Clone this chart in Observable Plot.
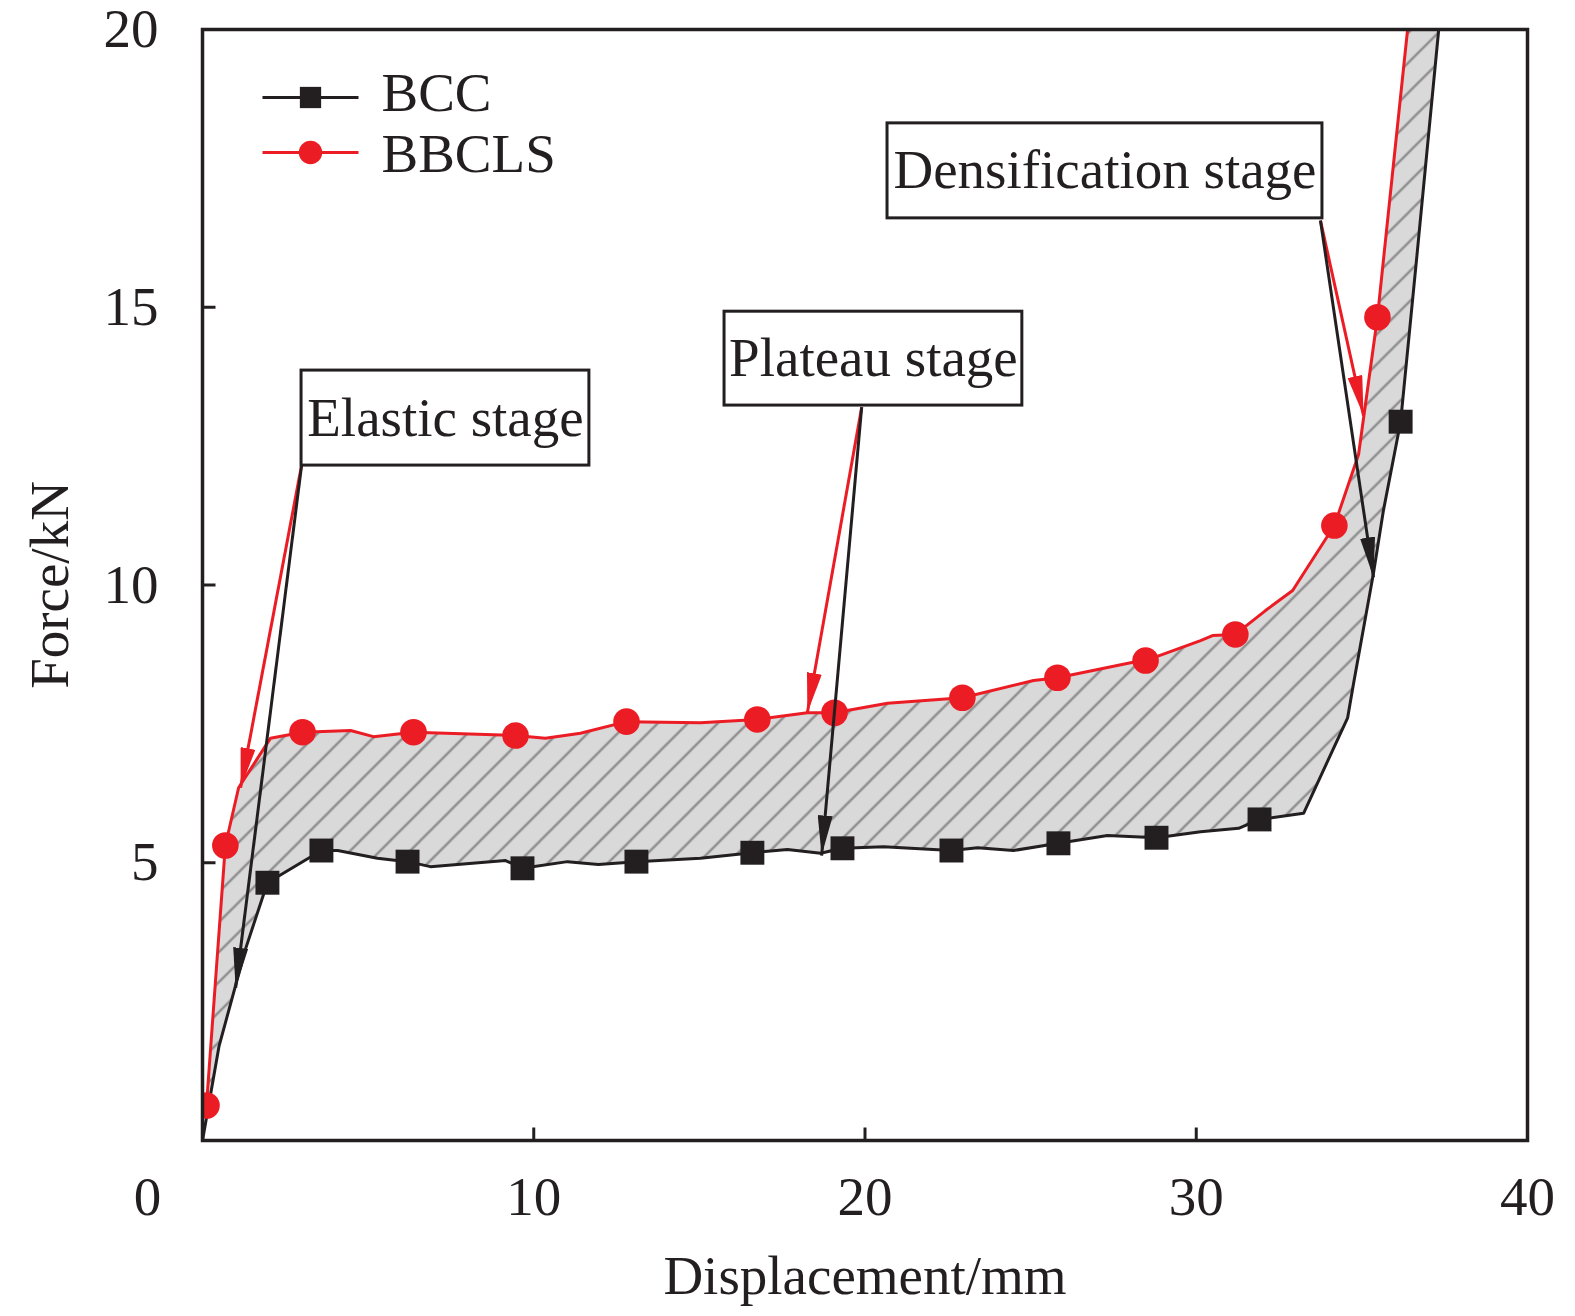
<!DOCTYPE html>
<html><head><meta charset="utf-8">
<script src="https://cdn.jsdelivr.net/npm/d3@7"></script>
<script src="https://cdn.jsdelivr.net/npm/@observablehq/plot@0.6"></script>
<style>body{margin:0;background:#fff;}</style>
</head><body><div id="chart"></div>
<script>
// ---- data ----
const bccX = [0, 0.5, 1.3, 1.96, 3.59, 4.08, 5.28, 6.19, 6.88, 9.15, 9.66, 11.02, 11.95, 13.10, 15.03, 16.60, 17.66, 18.66, 19.32, 20.56, 22.61, 23.40, 24.48, 25.84, 27.32, 28.80, 30.13, 31.28, 31.91, 33.24, 34.57, 34.75, 35.35, 35.65, 36.17, 36.68, 37.32];
const bccY = [0, 1.7, 3.45, 4.64, 5.22, 5.22, 5.08, 5.02, 4.93, 5.04, 4.90, 5.02, 4.97, 5.02, 5.08, 5.18, 5.24, 5.17, 5.26, 5.29, 5.22, 5.27, 5.22, 5.35, 5.49, 5.45, 5.56, 5.62, 5.78, 5.89, 7.61, 8.23, 10.21, 11.34, 12.94, 16.04, 20];
const bccMarkX = [1.96, 3.59, 6.19, 9.66, 13.10, 16.60, 19.32, 22.61, 25.84, 28.80, 31.91, 36.17];
const bccMarkY = [4.64, 5.22, 5.02, 4.90, 5.02, 5.18, 5.26, 5.22, 5.35, 5.45, 5.78, 12.94];

const bbclsX = [0.12, 0.42, 0.69, 1.09, 2.05, 3.02, 4.47, 5.16, 6.37, 9.45, 10.35, 11.41, 12.80, 15.03, 16.75, 18.26, 19.08, 20.68, 22.94, 25.09, 25.81, 28.02, 28.47, 30.13, 30.49, 31.18, 32.09, 32.91, 34.17, 34.90, 35.47, 36.38];
const bbclsY = [0.63, 3.10, 5.31, 6.35, 7.24, 7.35, 7.38, 7.27, 7.35, 7.29, 7.24, 7.33, 7.54, 7.52, 7.58, 7.70, 7.70, 7.87, 7.97, 8.28, 8.33, 8.60, 8.64, 9.00, 9.09, 9.11, 9.54, 9.90, 11.07, 12.35, 14.82, 20];
const bbclsMarkX = [0.12, 0.69, 3.02, 6.37, 9.45, 12.80, 16.75, 19.08, 22.94, 25.81, 28.47, 31.18, 34.17, 35.47];
const bbclsMarkY = [0.63, 5.31, 7.35, 7.35, 7.29, 7.54, 7.58, 7.70, 7.97, 8.33, 8.64, 9.11, 11.07, 14.82];

const seriesNames = ["BCC", "BBCLS"];
const xTicks = [10, 20, 30, 40];
const yTicks = [5, 10, 15, 20];
const originLabel = "0";
const xTitle = "Displacement/mm";
const yTitle = "Force/kN";

// annotation boxes (data units)
const stageLabels = ["Elastic stage", "Plateau stage", "Densification stage"];
const boxX1 = [2.99, 15.76, 20.68];
const boxX2 = [11.68, 24.75, 33.81];
const boxY1 = [12.15, 13.23, 16.60];
const boxY2 = [13.86, 14.92, 18.31];
// arrows: start point, red (BBCLS) tip, black (BCC) tip
const arrowStartX = [2.99, 19.90, 33.75];
const arrowStartY = [12.15, 13.20, 16.56];
const redTipX = [1.15, 18.26, 35.05];
const redTipY = [6.35, 7.70, 13.05];
const blackTipX = [1.00, 18.69, 35.35];
const blackTipY = [2.75, 5.13, 10.14];

// ---- build tables ----
const INK = "#231f20", RED = "#ec1c24";
const bcc = bccX.map((x, i) => ({x, y: bccY[i]}));
const bbcls = bbclsX.map((x, i) => ({x, y: bbclsY[i]}));
const bccMarks = bccMarkX.map((x, i) => ({x, y: bccMarkY[i]}));
const bbclsMarks = bbclsMarkX.map((x, i) => ({x, y: bbclsMarkY[i]}));
const region = [...bbcls, ...bcc.slice().reverse()];
const boxes = stageLabels.map((label, i) => ({label, x1: boxX1[i], x2: boxX2[i], y1: boxY1[i], y2: boxY2[i]}));
const redArrows = arrowStartX.map((x, i) => ({x1: x, y1: arrowStartY[i], x2: redTipX[i], y2: redTipY[i]}));
const blackArrows = arrowStartX.map((x, i) => ({x1: x, y1: arrowStartY[i], x2: blackTipX[i], y2: blackTipY[i]}));

const tickUp = {draw(c) { c.moveTo(0, 0); c.lineTo(0, -13); }};
const tickRight = {draw(c) { c.moveTo(0, 0); c.lineTo(13, 0); }};
const legendLine = {draw(c) { c.moveTo(-48, 0); c.lineTo(48, 0); }};

const svg = Plot.plot({
  width: 1575, height: 1316,
  marginLeft: 202, marginRight: 48, marginTop: 29, marginBottom: 176,
  x: {domain: [0, 40]},
  y: {domain: [0, 20]},
  style: {fontFamily: '"Liberation Serif","Times New Roman",serif', fontSize: "55px", color: INK, background: "#fff", overflow: "visible"},
  marks: [
    Plot.line(region, {x: "x", y: "y", fill: "url(#hatch)", stroke: "none"}),
    Plot.line(bcc, {x: "x", y: "y", stroke: INK, strokeWidth: 3}),
    Plot.line(bbcls, {x: "x", y: "y", stroke: RED, strokeWidth: 3}),
    Plot.dot(bccMarks, {x: "x", y: "y", symbol: "square", r: 13.5, fill: INK, stroke: "none"}),
    Plot.dot(bbclsMarks, {x: "x", y: "y", symbol: "circle", r: 13.3, fill: RED, stroke: "none", clip: true}),
    Plot.link(redArrows, {x1: "x1", y1: "y1", x2: "x2", y2: "y2", stroke: RED, strokeWidth: 3, ariaDescription: "arrows-red"}),
    Plot.link(blackArrows, {x1: "x1", y1: "y1", x2: "x2", y2: "y2", stroke: INK, strokeWidth: 3, ariaDescription: "arrows-black"}),
    Plot.rect(boxes, {x1: "x1", x2: "x2", y1: "y1", y2: "y2", fill: "#fff", stroke: INK, strokeWidth: 3}),
    Plot.text(boxes, {x: d => (d.x1 + d.x2) / 2, y: d => (d.y1 + d.y2) / 2, text: "label", fill: INK}),
    Plot.frame({stroke: INK, strokeWidth: 3.5}),
    Plot.dot(xTicks.slice(0, -1), {x: d => d, frameAnchor: "bottom", symbol: tickUp, stroke: INK, strokeWidth: 3, fill: "none"}),
    Plot.dot(yTicks.slice(0, -1), {y: d => d, frameAnchor: "left", symbol: tickRight, stroke: INK, strokeWidth: 3, fill: "none"}),
    Plot.axisX({ticks: xTicks, tickSize: 0, tickPadding: 35, label: null, fill: INK}),
    Plot.axisY({ticks: yTicks, tickSize: 0, tickPadding: 44, label: null, fill: INK}),
    Plot.text([originLabel], {text: d => d, frameAnchor: "bottom-left", dx: -55, dy: 35, lineAnchor: "top", textAnchor: "middle", fill: INK}),
    Plot.text([xTitle], {text: d => d, frameAnchor: "bottom", dy: 136, lineAnchor: "middle", textAnchor: "middle", fill: INK}),
    Plot.text([yTitle], {text: d => d, frameAnchor: "left", dx: -152, rotate: -90, lineAnchor: "middle", textAnchor: "middle", fill: INK}),
    // legend
    Plot.dot([seriesNames[0]], {frameAnchor: "top-left", dx: 108, dy: 68, symbol: legendLine, stroke: INK, strokeWidth: 3, fill: "none"}),
    Plot.dot([seriesNames[0]], {frameAnchor: "top-left", dx: 108, dy: 68, symbol: "square", r: 12, fill: INK, stroke: "none"}),
    Plot.text([seriesNames[0]], {text: d => d, frameAnchor: "top-left", dx: 179, dy: 64, textAnchor: "start", lineAnchor: "middle", fill: INK}),
    Plot.dot([seriesNames[1]], {frameAnchor: "top-left", dx: 108, dy: 123, symbol: legendLine, stroke: RED, strokeWidth: 3, fill: "none"}),
    Plot.dot([seriesNames[1]], {frameAnchor: "top-left", dx: 108, dy: 123, symbol: "circle", r: 11.7, fill: RED, stroke: "none"}),
    Plot.text([seriesNames[1]], {text: d => d, frameAnchor: "top-left", dx: 179, dy: 125, textAnchor: "start", lineAnchor: "middle", fill: INK})
  ]
});

const ns = "http://www.w3.org/2000/svg";
const defs = document.createElementNS(ns, "defs");
defs.innerHTML =
  `<pattern id="hatch" patternUnits="userSpaceOnUse" width="30" height="30">
     <rect width="30" height="30" fill="#d9d9d9"/>
     <path d="M0,30L30,0M-15,15L15,-15M15,45L45,15" stroke="#8c8c8c" stroke-width="2.3"/>
   </pattern>
   <marker id="ahRed" viewBox="0 0 40 15" refX="40" refY="7.5" markerWidth="40" markerHeight="15" markerUnits="userSpaceOnUse" orient="auto">
     <path d="M0,0L40,7.5L0,15Z" fill="${RED}"/>
   </marker>
   <marker id="ahBlack" viewBox="0 0 40 15" refX="40" refY="7.5" markerWidth="40" markerHeight="15" markerUnits="userSpaceOnUse" orient="auto">
     <path d="M0,0L40,7.5L0,15Z" fill="${INK}"/>
   </marker>`;
svg.insertBefore(defs, svg.firstChild);
svg.querySelectorAll('[aria-description="arrows-red"] path').forEach(p => p.setAttribute("marker-end", "url(#ahRed)"));
svg.querySelectorAll('[aria-description="arrows-black"] path').forEach(p => p.setAttribute("marker-end", "url(#ahBlack)"));
document.getElementById("chart").appendChild(svg);
</script>
</body></html>
